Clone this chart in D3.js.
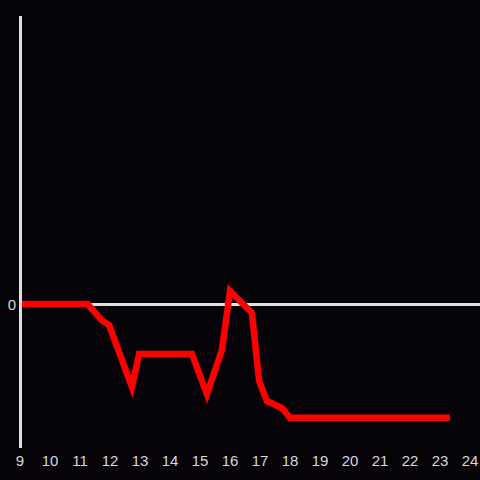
<!DOCTYPE html>
<html><head><meta charset="utf-8">
<script src="https://cdn.jsdelivr.net/npm/d3@7"></script>
<style>html,body{margin:0;padding:0;background:#050308;}svg{display:block;}</style>
</head><body>
<svg id="c" width="480" height="480"></svg>
<script>
const hours = [9, 11.25, 11.75, 11.97, 12.73, 12.97, 14.73, 15.23, 15.73, 16.0, 16.73, 16.97, 17.23, 17.73, 18.0, 23.33];
const values = [0, 0, -0.118, -0.146, -0.576, -0.347, -0.347, -0.625, -0.319, 0.09, -0.0625, -0.535, -0.674, -0.722, -0.79, -0.79];
const xTicks = [9,10,11,12,13,14,15,16,17,18,19,20,21,22,23,24];
const yTicks = [0];

const svg = d3.select('#c');
svg.append('rect').attr('width',480).attr('height',480).attr('fill','#050308');
const x = d3.scaleLinear().domain([9,24]).range([20,470]);
const y = d3.scaleLinear().domain([-1,2]).range([448,16]);

// zero line
svg.append('line').attr('x1',20).attr('x2',480).attr('y1',y(0)+0.5).attr('y2',y(0)+0.5)
  .attr('stroke','#e0e0e0').attr('stroke-width',3);

const data = hours.map((h,i)=>({h, v: values[i]}));
svg.append('path').datum(data)
  .attr('fill','none').attr('stroke','#ff0000').attr('stroke-width',6.5)
  .attr('stroke-linejoin','miter')
  .attr('d', d3.line().x(d=>x(d.h)).y(d=>y(d.v)));

// y axis line
svg.append('line').attr('x1',20.5).attr('x2',20.5).attr('y1',16).attr('y2',448)
  .attr('stroke','#e0e0e0').attr('stroke-width',3);

svg.append('g').selectAll('text').data(xTicks).join('text')
  .attr('x',d=>x(d)).attr('y',466).attr('text-anchor','middle')
  .attr('font-family','Liberation Sans, Arial, sans-serif').attr('font-size',15)
  .attr('fill','#d8d8d8').text(d=>d);
svg.append('g').selectAll('text').data(yTicks).join('text')
  .attr('x',16).attr('y',d=>y(d)+6).attr('text-anchor','end')
  .attr('font-family','Liberation Sans, Arial, sans-serif').attr('font-size',15)
  .attr('fill','#d8d8d8').text(d=>d);
</script>
</body></html>
